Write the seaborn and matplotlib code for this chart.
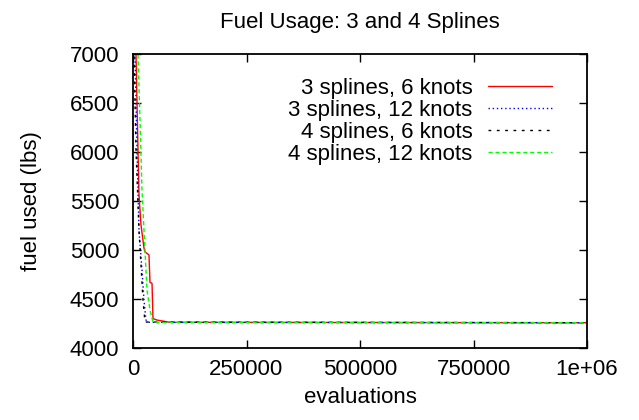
import matplotlib
matplotlib.use("Agg")
import matplotlib.pyplot as plt
import seaborn as sns
import pandas as pd

# Data
series_names = ["3 splines, 6 knots", "3 splines, 12 knots",
                "4 splines, 6 knots", "4 splines, 12 knots"]

evals_3s6k = [0, 6600, 11000, 13200, 17600, 24200, 26400, 35200, 37400, 41900, 44000, 52900, 81500, 1000000]
fuel_3s6k = [7700, 7000, 6020, 5560, 5255, 5020, 4980, 4950, 4670, 4660, 4300, 4285, 4262, 4258]

evals_3s12k = [0, 4400, 8800, 13200, 19800, 24200, 28600, 33000, 1000000]
fuel_3s12k = [7600, 7000, 6020, 5200, 4800, 4490, 4285, 4262, 4258]

evals_4s6k = [0, 2200, 6600, 13200, 17600, 22000, 26400, 1000000]
fuel_4s6k = [7400, 7000, 6020, 5200, 4850, 4490, 4265, 4258]

evals_4s12k = [4000, 11000, 15400, 19800, 26400, 30800, 37400, 44000, 55000, 1000000]
fuel_4s12k = [7600, 7000, 6330, 5610, 5000, 4590, 4390, 4265, 4260, 4258]

x_ticks = [0, 250000, 500000, 750000, 1000000]
x_tick_labels = ["0", "250000", "500000", "750000", "1e+06"]
y_ticks = [4000, 4500, 5000, 5500, 6000, 6500, 7000]

frames = []
for name, xs, ys in zip(series_names,
                        [evals_3s6k, evals_3s12k, evals_4s6k, evals_4s12k],
                        [fuel_3s6k, fuel_3s12k, fuel_4s6k, fuel_4s12k]):
    frames.append(pd.DataFrame({"evaluations": xs, "fuel": ys, "series": name}))
df = pd.concat(frames, ignore_index=True)

sns.set_style("ticks")
plt.rcParams["font.family"] = ["Liberation Sans", "DejaVu Sans"]
plt.rcParams["text.color"] = "black"
plt.rcParams["axes.labelcolor"] = "black"

FS = 16

fig = plt.figure(figsize=(6.39, 4.2), dpi=100)
ax = fig.add_axes([133 / 639, 1 - 348 / 420, (587 - 133) / 639, (348 - 54) / 420])

palette = {series_names[0]: "#ff0000", series_names[1]: "#0000ff",
           series_names[2]: "#000000", series_names[3]: "#00ff00"}
dashes = {series_names[0]: "", series_names[1]: (1, 2),
          series_names[2]: (2, 4), series_names[3]: (3, 2)}

sns.lineplot(data=df, x="evaluations", y="fuel", hue="series", style="series",
             palette=palette, dashes=dashes, hue_order=series_names,
             style_order=series_names, linewidth=1.0, ax=ax, legend=True,
             estimator=None, sort=False)

ax.set_xlim(0, 1000000)
ax.set_ylim(4000, 7000)
ax.set_xticks(x_ticks)
ax.set_xticklabels(x_tick_labels)
ax.set_yticks(y_ticks)
ax.tick_params(direction="in", top=True, right=True, labelsize=FS, length=6,
               width=1, colors="black")
ax.tick_params(axis="x", pad=8)
ax.tick_params(axis="y", pad=10)
for s in ax.spines.values():
    s.set_linewidth(1.3)
    s.set_color("black")
    s.set_visible(True)

ax.set_xlabel("evaluations", fontsize=FS, labelpad=5, color="black")
ax.set_ylabel("fuel used (lbs)", fontsize=FS, labelpad=20, color="black")
ax.set_title("Fuel Usage: 3 and 4 Splines", fontsize=FS, pad=19, color="black")

handles, labels = ax.get_legend_handles_labels()
leg = ax.legend(handles, labels, loc="upper right", bbox_to_anchor=(0.923, 0.92),
                frameon=False, markerfirst=False, alignment="right",
                fontsize=FS, handlelength=2.9, handletextpad=0.68,
                labelspacing=0.05, borderaxespad=0, borderpad=0)
for t in leg.get_texts():
    t.set_color("black")

fig.savefig("out.png", dpi=100)
